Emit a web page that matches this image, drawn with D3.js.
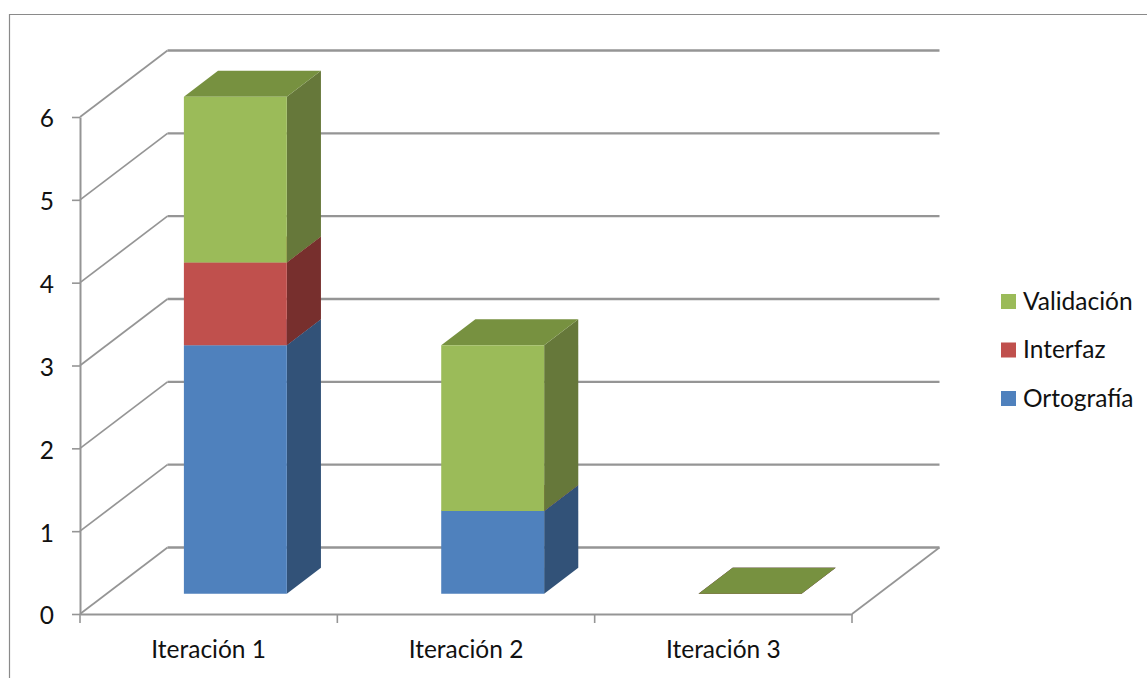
<!DOCTYPE html>
<html>
<head>
<meta charset="utf-8">
<style>
html,body{margin:0;padding:0;background:#fff}
svg{display:block}
text{font-family:Lato,"Open Sans",sans-serif;font-size:24.5px;fill:#111}
</style>
<script src="https://cdn.jsdelivr.net/npm/d3@7"></script>
</head>
<body>
<svg id="chart" width="1147" height="678"></svg>
<script>
const categories = ["Iteración 1", "Iteración 2", "Iteración 3"];
const seriesNames = ["Ortografía", "Interfaz", "Validación"];
const ortografia = [3, 1, 0];
const interfaz = [1, 0, 0];
const validacion = [2, 2, 0];
const yTicks = [0, 1, 2, 3, 4, 5, 6];
const frontColors = ["#4F81BD", "#C0504D", "#9BBB59"];
const sideColors = ["#325278", "#772F2D", "#66783A"];
const topColors = ["#3F6797", "#9A403E", "#779140"];
const lineColor = "#959595";
const labelFont = "Lato,'Open Sans',sans-serif";
const labelSize = "24.5px";

const svg = d3.select("#chart");
const x = d3.scaleBand().domain(categories).range([80, 852]);
const y = d3.scaleLinear().domain([0, 6]).range([614, 117]);

// Oblique projection: depth d in [0, 1] shifts a point up and to the right.
const depthX = 87.5, depthY = -66.5;
const project = (px, py, d) => [px + d * depthX, py + d * depthY];
const poly = pts => pts.map(p => p.join(",")).join(" ");

const rows = categories.map((c, i) => ({
  category: c,
  [seriesNames[0]]: ortografia[i],
  [seriesNames[1]]: interfaz[i],
  [seriesNames[2]]: validacion[i]
}));
const stacked = d3.stack().keys(seriesNames)(rows);

// Chart frame, cut off by the page on its right and bottom sides
svg.append("path")
  .attr("d", "M9.5,678V14.5H1147")
  .attr("fill", "none").attr("stroke", "#8a8a8a").attr("stroke-width", 1.2);

// Back wall gridlines and the left wall diagonals
const wall = svg.append("g").attr("fill", "none").attr("stroke", lineColor);
yTicks.forEach(v => {
  const a = project(x.range()[0], y(v), 1);
  const b = project(x.range()[1], y(v), 1);
  wall.append("line").attr("x1", a[0]).attr("y1", a[1]).attr("x2", b[0]).attr("y2", b[1])
    .attr("stroke-width", 2.4);
  wall.append("line").attr("x1", x.range()[0]).attr("y1", y(v)).attr("x2", a[0]).attr("y2", a[1])
    .attr("stroke-width", 1.7);
});

// Right edge of the floor
const floorEnd = project(x.range()[1], y(0), 1);
wall.append("line").attr("x1", x.range()[1]).attr("y1", y(0))
  .attr("x2", floorEnd[0]).attr("y2", floorEnd[1]).attr("stroke-width", 1.7);

// Value axis
const yAxis = svg.append("g").attr("transform", `translate(${x.range()[0]},0)`)
  .call(d3.axisLeft(y).tickValues(yTicks).tickFormat(d3.format("d")).tickSize(8).tickPadding(18).tickSizeOuter(0));
yAxis.select(".domain").attr("stroke", lineColor).attr("stroke-width", 2);
yAxis.selectAll(".tick line").attr("stroke", lineColor).attr("stroke-width", 1.6);
yAxis.selectAll("text").attr("y", 2).style("font-family", labelFont).style("font-size", labelSize).attr("fill", "#111");

// Category axis: labels centred in each band, tick marks on the band edges
const xAxis = svg.append("g").attr("transform", `translate(0,${y(0)})`)
  .call(d3.axisBottom(x).tickSize(0).tickPadding(27));
xAxis.select(".domain").attr("stroke", lineColor).attr("stroke-width", 2.2);
xAxis.selectAll("text").style("font-family", labelFont).style("font-size", labelSize).attr("fill", "#111");
const edges = categories.map(c => x(c)).concat(x.range()[1]);
xAxis.selectAll("line.edge").data(edges).join("line").attr("class", "edge")
  .attr("x1", d => d).attr("x2", d => d).attr("y1", 0).attr("y2", 9)
  .attr("stroke", lineColor).attr("stroke-width", 1.6);

// Stacked 3D columns, lowest series first
const barWidth = x.bandwidth() * 0.4;
const nearDepth = 0.305, farDepth = 0.695;
const bars = svg.append("g");
stacked.forEach((layer, si) => {
  layer.forEach((seg, ci) => {
    const x0 = x(categories[ci]) + (x.bandwidth() - barWidth) / 2;
    const x1 = x0 + barWidth;
    const yLow = y(seg[0]), yHigh = y(seg[1]);
    bars.append("polygon").attr("fill", sideColors[si]).attr("points", poly([
      project(x1, yLow, nearDepth), project(x1, yLow, farDepth),
      project(x1, yHigh, farDepth), project(x1, yHigh, nearDepth)
    ]));
    bars.append("polygon").attr("fill", topColors[si]).attr("points", poly([
      project(x0, yHigh, nearDepth), project(x1, yHigh, nearDepth),
      project(x1, yHigh, farDepth), project(x0, yHigh, farDepth)
    ]));
    bars.append("polygon").attr("fill", frontColors[si]).attr("points", poly([
      project(x0, yLow, nearDepth), project(x1, yLow, nearDepth),
      project(x1, yHigh, nearDepth), project(x0, yHigh, nearDepth)
    ]));
  });
});

// Legend, listed top-down in reverse stacking order
const legendY = d3.scalePoint().domain(seriesNames.slice().reverse()).range([301.5, 398.5]);
const legend = svg.append("g");
seriesNames.forEach((name, i) => {
  const g = legend.append("g").attr("transform", `translate(1001,${legendY(name)})`);
  g.append("rect").attr("x", 0).attr("y", -7.5).attr("width", 15).attr("height", 15).attr("fill", frontColors[i]);
  g.append("text").attr("x", 22).attr("y", 8).text(name);
});
</script>
</body>
</html>
